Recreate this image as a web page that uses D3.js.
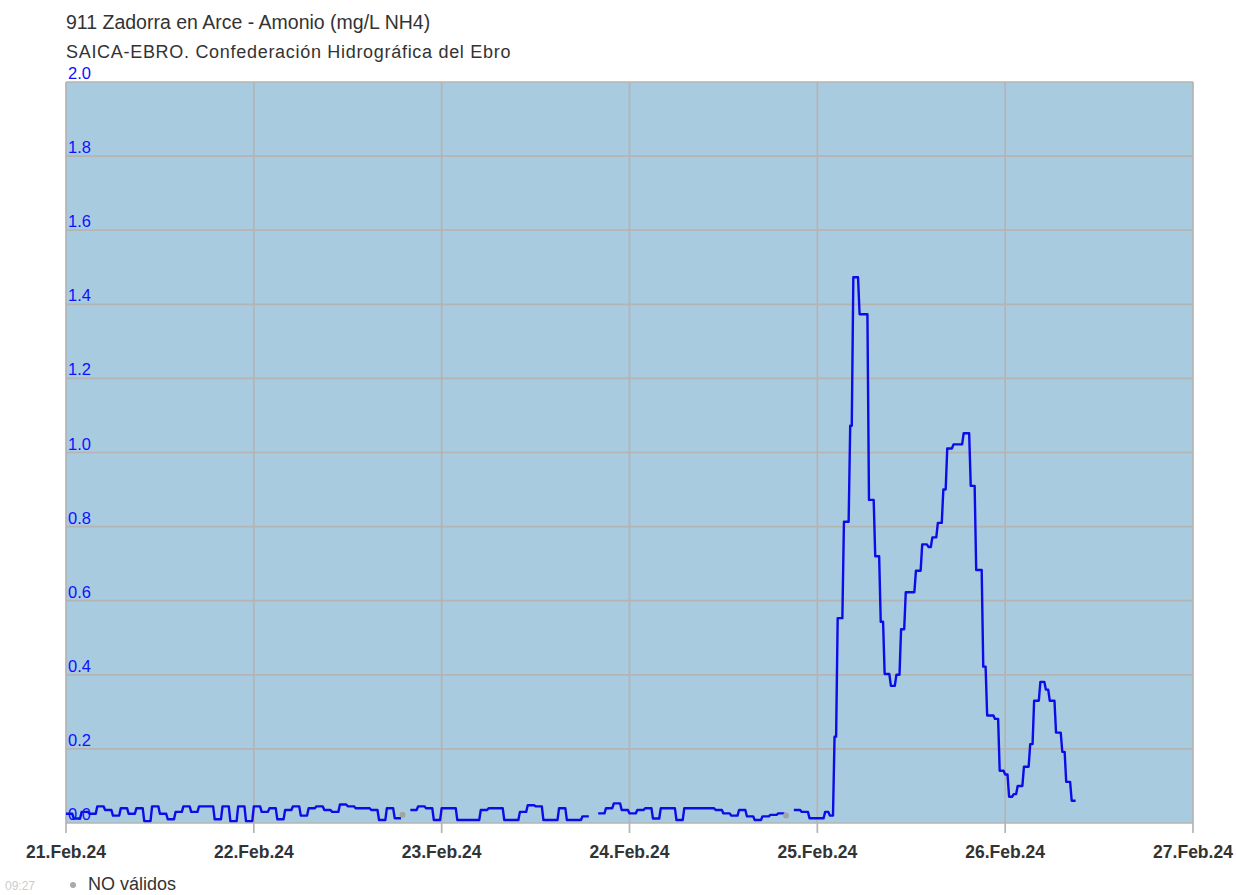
<!DOCTYPE html>
<html>
  <head>
    <meta charset="utf-8" />
    <script src="https://d3js.org/d3.v7.min.js"></script>
    <style>
      body { margin: 0; background: #ffffff; }
      text { font-family: "Liberation Sans", Arial, sans-serif; }
      .plotbg { fill: #a9cbe0; }
      .grid { stroke: #b4b4b4; stroke-width: 1.7; fill: none; }
      .serie { stroke: #0c0ce8; stroke-width: 2.4; fill: none; stroke-linejoin: round; }
      .ylab { fill: #1010ff; font-size: 16.5px; }
      .xlab { fill: #333333; font-size: 17.5px; font-weight: bold; }
    </style>
  </head>
  <body>
    <svg width="1236" height="895"></svg>

    <script type="text/javascript">

    // hours since 21.Feb.24 00:00
    var dayLabels = ["21.Feb.24", "22.Feb.24", "23.Feb.24", "24.Feb.24", "25.Feb.24", "26.Feb.24", "27.Feb.24"];
    var yTicks = [0, 0.2, 0.4, 0.6, 0.8, 1.0, 1.2, 1.4, 1.6, 1.8, 2.0];
    var yLabels = ["0.0", "0.2", "0.4", "0.6", "0.8", "1.0", "1.2", "1.4", "1.6", "1.8", "2.0"];

    // hourly values, 21.Feb 00:00 to 25.Feb 01:00 (null = no valid value)
    var hourlyValues = [
      0.025, 0.012, 0.03, 0.025, 0.045, 0.035, 0.02, 0.04, 0.025, 0.04,
      0.005, 0.045, 0.025, 0.01, 0.03, 0.045, 0.03, 0.045, 0.045, 0.01,
      0.045, 0.005, 0.045, 0.005, 0.045, 0.03, 0.04, 0.01, 0.035, 0.045,
      0.02, 0.04, 0.045, 0.035, 0.03, 0.05, 0.045, 0.04, 0.04, 0.035,
      0.008, 0.04, 0.013, null, 0.035, 0.045, 0.04, 0.008, 0.04, 0.04,
      0.008, 0.008, 0.008, 0.035, 0.04, 0.04, 0.008, 0.008, 0.03, 0.048,
      0.045, 0.008, 0.008, 0.04, 0.008, 0.008, 0.018, null, 0.026, 0.04,
      0.053, 0.035, 0.026, 0.035, 0.04, 0.012, 0.04, 0.04, 0.008, 0.04,
      0.04, 0.04, 0.04, 0.035, 0.026, 0.02, 0.035, 0.018, 0.008, 0.018,
      0.022, 0.026, null, 0.035, 0.03, 0.013, 0.013, 0.03
    ];

    // irregular steps during the event of 25-26.Feb
    var eventTimes = [
      97.6, 98.2, 98.6, 99.4, 100.2, 100.6, 101.4, 102.6, 103.4, 104.1,
      104.6, 105.4, 106.1, 106.7, 107.3, 108.6, 109.4, 110.2, 110.7, 111.4,
      112.1, 112.6, 113.4, 114.7, 115.6, 116.3, 117.2, 117.7, 118.7, 119.3,
      120.0, 120.5, 121.1, 121.6, 122.4, 123.2, 123.7, 124.5, 125.2, 125.7,
      126.5, 127.3, 127.8, 128.5
    ];
    var eventValues = [
      0.02, 0.233, 0.553, 0.813, 1.072, 1.473, 1.373, 0.872, 0.72, 0.543,
      0.402, 0.37, 0.40, 0.523, 0.623, 0.681, 0.752, 0.745, 0.771, 0.81,
      0.90, 1.011, 1.022, 1.052, 0.91, 0.683, 0.422, 0.29, 0.281, 0.141,
      0.131, 0.071, 0.078, 0.10, 0.152, 0.213, 0.33, 0.381, 0.36, 0.33,
      0.244, 0.192, 0.111, 0.06
    ];
    var lastTime = 129.0;

    // "NO validos" points
    var invalidTimes = [43, 92];
    var invalidValues = [0.022, 0.02];

    var svg = d3.select("svg");

    var x = d3.scaleLinear().domain([0, 144]).range([66, 1193]);
    var y = d3.scaleLinear().domain([0, 2]).range([823, 82]);

    // titles
    svg.append("text").attr("x", 66).attr("y", 29)
      .style("font-size", "19.5px").style("fill", "#333333")
      .text("911 Zadorra en Arce - Amonio (mg/L NH4)");
    svg.append("text").attr("x", 66).attr("y", 58)
      .style("font-size", "18px").style("letter-spacing", "0.7px").style("fill", "#333333")
      .text("SAICA-EBRO. Confederación Hidrográfica del Ebro");

    svg.append("rect").attr("class", "plotbg")
      .attr("x", x(0)).attr("y", y(2))
      .attr("width", x(144) - x(0)).attr("height", y(0) - y(2));

    // grid
    svg.selectAll(".hgrid").data(yTicks).enter().append("line")
      .attr("class", "grid")
      .attr("x1", x(0)).attr("x2", x(144))
      .attr("y1", function(d) { return y(d); })
      .attr("y2", function(d) { return y(d); });

    svg.selectAll(".vgrid").data(dayLabels).enter().append("line")
      .attr("class", "grid")
      .attr("x1", function(d, i) { return x(i * 24); })
      .attr("x2", function(d, i) { return x(i * 24); })
      .attr("y1", y(2)).attr("y2", y(0) + 10);

    // build the series
    var serie = [];
    hourlyValues.forEach(function(v, i) { serie.push({ t: i, v: v }); });
    eventTimes.forEach(function(t, i) { serie.push({ t: t, v: eventValues[i] }); });

    var pts = [];
    serie.forEach(function(d, i) {
      var next = i < serie.length - 1 ? serie[i + 1].t : lastTime;
      if (d.v === null) { pts.push(null); return; }
      pts.push([d.t, d.v]);
      pts.push([next - (i < serie.length - 1 ? 0.2 : 0), d.v]);
    });

    var line = d3.line()
      .defined(function(d) { return d !== null; })
      .x(function(d) { return x(d[0]); })
      .y(function(d) { return y(d[1]); });

    svg.append("path").attr("class", "serie").attr("d", line(pts));

    svg.selectAll(".invalid").data(invalidTimes).enter().append("circle")
      .attr("cx", function(d) { return x(d); })
      .attr("cy", function(d, i) { return y(invalidValues[i]); })
      .attr("r", 3).style("fill", "#a3a3a3");

    // y labels inside the plot, on top of the line
    svg.selectAll(".ylab").data(yTicks).enter().append("text")
      .attr("class", "ylab")
      .attr("x", x(0) + 2)
      .attr("y", function(d) { return y(d) - 3; })
      .text(function(d, i) { return yLabels[i]; });

    svg.selectAll(".xlab").data(dayLabels).enter().append("text")
      .attr("class", "xlab")
      .attr("x", function(d, i) { return x(i * 24); })
      .attr("y", 858)
      .attr("text-anchor", "middle")
      .text(function(d) { return d; });

    // legend
    svg.append("text").attr("x", 5).attr("y", 890)
      .style("font-size", "12px").style("fill", "#cccccc").text("09:27");
    svg.append("circle").attr("cx", 73).attr("cy", 885).attr("r", 3).style("fill", "#aaaaaa");
    svg.append("text").attr("x", 88).attr("y", 890)
      .style("font-size", "18px").style("fill", "#333333").text("NO válidos");

    </script>
  </body>
</html>
